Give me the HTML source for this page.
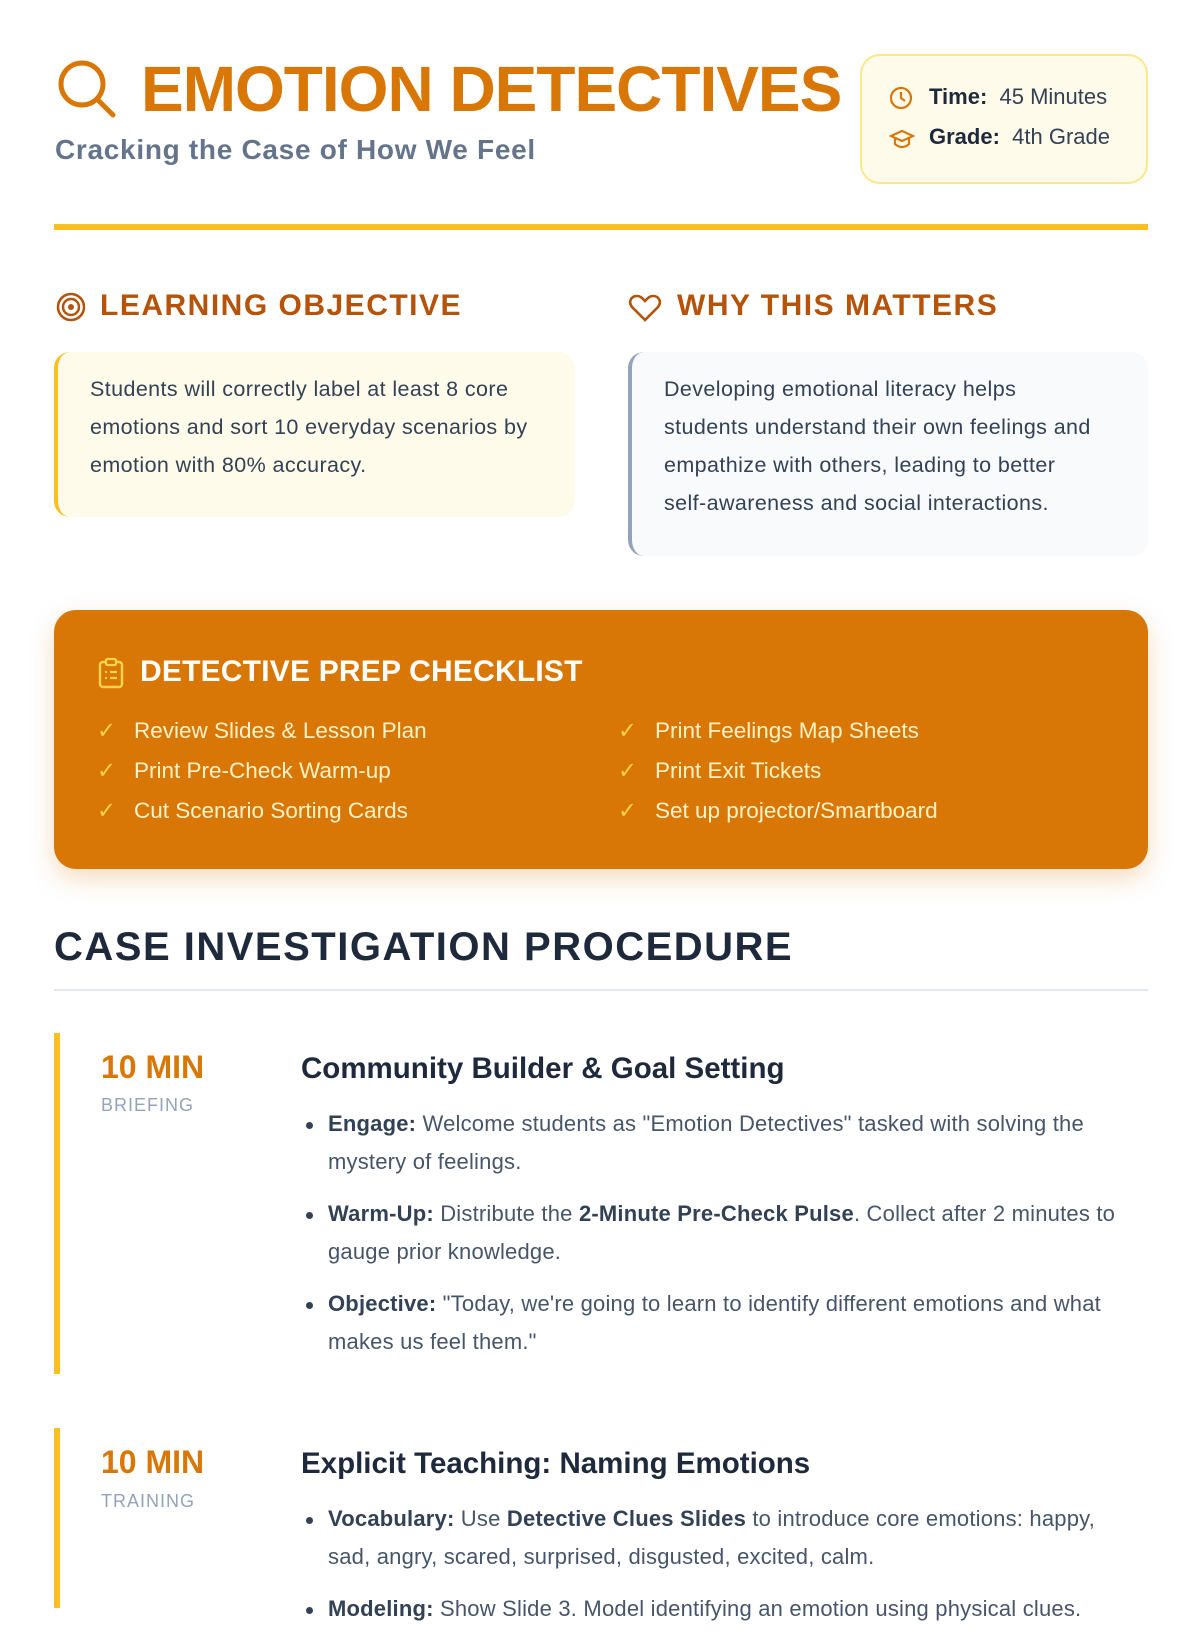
<!DOCTYPE html>
<html><head><meta charset="utf-8">
<style>
*{margin:0;padding:0;box-sizing:border-box}
body{width:1200px;height:1600px;overflow:hidden;background:#fff;font-family:"Liberation Sans",sans-serif;position:relative;color:#1e293b}
.a{position:absolute;white-space:nowrap}
.h2{font-size:30px;font-weight:bold;color:#b45309;letter-spacing:1.5px}
.card{position:absolute;border-radius:16px;font-size:21.5px;letter-spacing:0.4px;line-height:38px;color:#334155;padding:18px 0 0 32px}
.chk{position:absolute;font-size:22.5px;color:#fef3c7;white-space:nowrap}
.chk b{color:#fcd34d;font-weight:normal;position:absolute;left:-37px}
.bar{position:absolute;left:54px;width:6px;background:#fbbf24}
.min{position:absolute;left:101px;font-size:32px;font-weight:bold;color:#d97706}
.lbl{position:absolute;left:101px;font-size:18px;color:#94a3b8;letter-spacing:1px}
.st{position:absolute;left:301px;font-size:29.5px;font-weight:bold;color:#1e293b}
ul{position:absolute;left:328px;width:805px;list-style:none;font-size:22px;letter-spacing:0.2px;line-height:38px;color:#475569}
li{position:relative;margin-bottom:14px}
li:before{content:"";position:absolute;left:-22px;top:17px;width:7px;height:7px;border-radius:50%;background:#334155}
li b{color:#334155}
</style></head><body>
<svg class="a" style="left:56px;top:58px" width="62" height="62" viewBox="0 0 62 62"><circle cx="26" cy="26" r="21" fill="none" stroke="#d97706" stroke-width="5"/><line x1="41" y1="41" x2="57" y2="57" stroke="#d97706" stroke-width="5" stroke-linecap="round"/></svg>
<div class="a" style="left:141px;top:52px;font-size:64px;font-weight:900;color:#d97706;letter-spacing:-1px">EMOTION DETECTIVES</div>
<div class="a" style="left:55px;top:134px;font-size:28px;font-weight:bold;color:#64748b;letter-spacing:0.7px">Cracking the Case of How We Feel</div>
<div class="a" style="left:860px;top:54px;width:288px;height:130px;background:#fefbea;border:2px solid #fde68a;border-radius:20px"></div>
<svg class="a" style="left:889px;top:86px" width="24" height="24"><circle cx="12" cy="12" r="10" fill="none" stroke="#d97706" stroke-width="2.2"/><path d="M12 6v6l4 3" fill="none" stroke="#d97706" stroke-width="2.2"/></svg>
<div class="a" style="left:929px;top:84px;font-size:22px;color:#334155"><b style="color:#1e293b">Time:</b>&nbsp; 45 Minutes</div>
<svg class="a" style="left:889px;top:128px" width="26" height="22"><path d="M2 8l11-5 11 5-11 5z M6 10v6c4 4 10 4 14 0v-6" fill="none" stroke="#d97706" stroke-width="2.2"/></svg>
<div class="a" style="left:929px;top:124px;font-size:22px;color:#334155"><b style="color:#1e293b">Grade:</b>&nbsp; 4th Grade</div>
<div class="a" style="left:54px;top:224px;width:1094px;height:6px;background:#fbbf24"></div>

<svg class="a" style="left:55px;top:291px" width="32" height="32"><circle cx="16" cy="16" r="13" fill="none" stroke="#b45309" stroke-width="2.5"/><circle cx="16" cy="16" r="8" fill="none" stroke="#b45309" stroke-width="2.5"/><circle cx="16" cy="16" r="3" fill="#b45309"/></svg>
<div class="a h2" style="left:100px;top:289px">LEARNING OBJECTIVE</div>
<svg class="a" style="left:628px;top:293px" width="34" height="30"><path d="M17 27L4 14C0 9 3 3 9 3c4 0 6 3 8 5 2-2 4-5 8-5 6 0 9 6 5 11z" fill="none" stroke="#b45309" stroke-width="2.6"/></svg>
<div class="a h2" style="left:677px;top:289px">WHY THIS MATTERS</div>

<div class="card" style="left:54px;top:352px;width:521px;height:165px;background:#fefbea;border-left:4px solid #fbbf24">Students will correctly label at least 8 core<br>emotions and sort 10 everyday scenarios by<br>emotion with 80% accuracy.</div>
<div class="card" style="left:628px;top:352px;width:520px;height:204px;background:#f8fafc;border-left:4px solid #94a3b8">Developing emotional literacy helps<br>students understand their own feelings and<br>empathize with others, leading to better<br>self-awareness and social interactions.</div>

<div class="a" style="left:54px;top:610px;width:1094px;height:259px;background:#d97706;border-radius:22px;box-shadow:0 10px 25px rgba(217,119,6,0.25)"></div>
<svg class="a" style="left:97px;top:657px" width="28" height="32"><rect x="3" y="5" width="22" height="25" rx="3" fill="none" stroke="#fcd34d" stroke-width="2.4"/><rect x="9" y="2" width="10" height="6" rx="1.5" fill="#d97706" stroke="#fcd34d" stroke-width="2.2"/><path d="M8 15h2M13 15h7M8 21h2M13 21h7" stroke="#fcd34d" stroke-width="2.2"/></svg>
<div class="a" style="left:140px;top:655px;font-size:30px;font-weight:bold;color:#fff;letter-spacing:.2px">DETECTIVE PREP CHECKLIST</div>
<div class="chk" style="left:134px;top:718px"><b>✓</b>Review Slides &amp; Lesson Plan</div>
<div class="chk" style="left:134px;top:758px"><b>✓</b>Print Pre-Check Warm-up</div>
<div class="chk" style="left:134px;top:798px"><b>✓</b>Cut Scenario Sorting Cards</div>
<div class="chk" style="left:655px;top:718px"><b>✓</b>Print Feelings Map Sheets</div>
<div class="chk" style="left:655px;top:758px"><b>✓</b>Print Exit Tickets</div>
<div class="chk" style="left:655px;top:798px"><b>✓</b>Set up projector/Smartboard</div>

<div class="a" style="left:54px;top:925px;font-size:40px;font-weight:bold;color:#1e293b;letter-spacing:1.5px">CASE INVESTIGATION PROCEDURE</div>
<div class="a" style="left:54px;top:989px;width:1094px;height:2px;background:#e2e8f0"></div>

<div class="bar" style="top:1033px;height:341px"></div>
<div class="min" style="top:1049px">10 MIN</div>
<div class="lbl" style="top:1095px">BRIEFING</div>
<div class="st" style="top:1052px">Community Builder &amp; Goal Setting</div>
<ul style="top:1105px">
<li><b>Engage:</b> Welcome students as "Emotion Detectives" tasked with solving the mystery of feelings.</li>
<li><b>Warm-Up:</b> Distribute the <b>2-Minute Pre-Check Pulse</b>. Collect after 2 minutes to gauge prior knowledge.</li>
<li><b>Objective:</b> "Today, we're going to learn to identify different emotions and what makes us feel them."</li>
</ul>

<div class="bar" style="top:1428px;height:180px"></div>
<div class="min" style="top:1444px">10 MIN</div>
<div class="lbl" style="top:1491px">TRAINING</div>
<div class="st" style="top:1447px">Explicit Teaching: Naming Emotions</div>
<ul style="top:1500px">
<li><b>Vocabulary:</b> Use <b>Detective Clues Slides</b> to introduce core emotions: happy, sad, angry, scared, surprised, disgusted, excited, calm.</li>
<li><b>Modeling:</b> Show Slide 3. Model identifying an emotion using physical clues.</li>
</ul>
</body></html>
